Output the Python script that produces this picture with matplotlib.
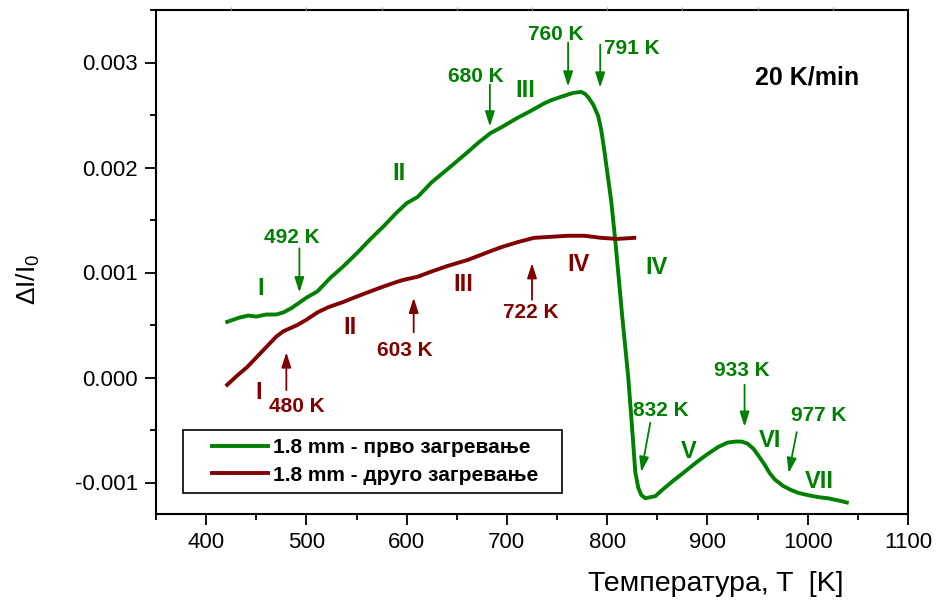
import numpy as np
import matplotlib
matplotlib.use("Agg")
import matplotlib.pyplot as plt
from matplotlib.ticker import MultipleLocator, FormatStrFormatter
from matplotlib.legend_handler import HandlerLine2D

# ---------------- data ----------------
T_first = [421, 433, 442, 450, 460, 470, 477, 485, 491, 500, 511, 524, 537, 551,
           563, 577, 590, 600, 611, 625, 644, 660, 672, 684, 694, 710, 724, 737,
           744, 756, 766, 774, 778, 781, 786, 791, 794, 797, 800, 804, 808, 811,
           815, 821, 825, 828, 831, 834, 838, 843, 848, 855, 865, 877, 890, 900,
           911, 920, 928, 934, 940, 946, 952, 957, 962, 967, 975, 983, 991, 1000,
           1011, 1020, 1030, 1039]
dI_first = [0.00053, 0.00057, 0.00059, 0.00058, 0.00060, 0.00060, 0.00062, 0.00066,
            0.00070, 0.00076, 0.00082, 0.00095, 0.00106, 0.00119, 0.00131, 0.00144,
            0.00157, 0.00166, 0.00172, 0.00186, 0.00201, 0.00214, 0.00224, 0.00233,
            0.00238, 0.00247, 0.00254, 0.00261, 0.00264, 0.00268, 0.00271, 0.00272,
            0.00270, 0.00267, 0.00260, 0.00249, 0.00236, 0.00217, 0.00196, 0.00168,
            0.00131, 0.00100, 0.00058, 0.00000, -0.00050, -0.00090, -0.00105,
            -0.00112, -0.00115, -0.00114, -0.00113, -0.00107, -0.00099, -0.00090,
            -0.00080, -0.00073, -0.00066, -0.00062, -0.00061, -0.00061, -0.00063,
            -0.00068, -0.00076, -0.00083, -0.00091, -0.00097, -0.00103, -0.00107,
            -0.00110, -0.00112, -0.00114, -0.00115, -0.00117, -0.00119]

T_second = [421, 430, 441, 450, 461, 470, 477, 484, 491, 500, 511, 522, 537, 550,
            561, 575, 590, 597, 611, 625, 640, 661, 680, 694, 711, 727, 744, 761,
            777, 794, 810, 827]
dI_second = [-0.00007, 0.00001, 0.00010, 0.00019, 0.00030, 0.00039, 0.00044,
             0.00047, 0.00050, 0.00055, 0.00062, 0.00067, 0.00072, 0.00077,
             0.00081, 0.00086, 0.00091, 0.00093, 0.00096, 0.00101, 0.00106,
             0.00112, 0.00119, 0.00124, 0.00129, 0.00133, 0.00134, 0.00135,
             0.00135, 0.00133, 0.00132, 0.00133]

series_labels = ["1.8 mm - прво загревање", "1.8 mm - друго загревање"]
x_ticks = [400, 500, 600, 700, 800, 900, 1000, 1100]
y_ticks = [-0.001, 0.000, 0.001, 0.002, 0.003]
rate_label = "20 K/min"

# temperature markers: label, text position, arrow start, arrow end
marks_first = [
    ("492 K", (485, 0.00133), (493, 0.00123), (493, 0.00081)),
    ("680 K", (669, 0.00287), (683, 0.00279), (683, 0.00239)),
    ("760 K", (749, 0.00327), (761, 0.00319), (761, 0.00277)),
    ("791 K", (825, 0.00313), (793, 0.00317), (793, 0.00276)),
    ("832 K", (853, -0.00031), (843, -0.00043), (834, -0.00090)),
    ("933 K", (934, 0.00007), (937, -0.00007), (937, -0.00047)),
    ("977 K", (1011, -0.00036), (989, -0.00052), (981, -0.00091)),
]
marks_second = [
    ("480 K", (490, -0.00028), (480, -0.00012), (480, 0.00024)),
    ("603 K", (598, 0.00026), (607, 0.00043), (607, 0.00076)),
    ("722 K", (724, 0.00062), (725, 0.00074), (725, 0.00109)),
]
stages_first = [("I", (454, 0.00085)), ("II", (592, 0.00194)), ("III", (718, 0.00273)),
                ("IV", (849, 0.00105)), ("V", (881, -0.00070)), ("VI", (962, -0.00060)),
                ("VII", (1012, -0.00099))]
stages_second = [("I", (452, -0.00014)), ("II", (543, 0.00048)), ("III", (656, 0.00089)),
                 ("IV", (771, 0.00108))]

# ---------------- style ----------------
plt.rcParams["font.family"] = ["Liberation Sans", "DejaVu Sans"]
plt.rcParams["mathtext.default"] = "regular"
plt.rcParams["axes.unicode_minus"] = False

GREEN = "#008000"
RED = "#800000"

fig = plt.figure(figsize=(9.36, 6.06), dpi=100)
W, H = 936, 606
ax = fig.add_axes([156 / W, (H - 514) / H, 752 / W, 504 / H])

ax.plot(T_first, dI_first, color=GREEN, lw=2.8, label=series_labels[0], solid_joinstyle="round")
ax.plot(T_second, dI_second, color=RED, lw=2.8, label=series_labels[1], solid_joinstyle="round")

ax.set_xlim(350, 1100)
ax.set_ylim(-0.0013, 0.0035)
ax.set_xticks(x_ticks)
ax.set_yticks(y_ticks)
ax.xaxis.set_minor_locator(MultipleLocator(50))
ax.yaxis.set_minor_locator(MultipleLocator(0.0005))
ax.yaxis.set_major_formatter(FormatStrFormatter("%.3f"))
ax.tick_params(which="both", direction="out", width=1.3, top=False, right=False)
ax.tick_params(which="major", length=8, labelsize=16, pad=5)
ax.tick_params(which="minor", length=4)
for s in ax.spines.values():
    s.set_linewidth(1.5)

# faint top-edge ticks
ax_top = ax.twiny()
ax_top.set_xlim(ax.get_xlim())
ax_top.set_xticks(np.arange(425, 1100, 75))
ax_top.set_xticklabels([])
ax_top.tick_params(axis="x", direction="out", length=2.5, width=0.8, colors="#999999")
for s in ax_top.spines.values():
    s.set_visible(False)

ax.set_xlabel("Температура, T  [K]", fontsize=20.5)
ax.xaxis.set_label_coords(0.745, -0.114)
ax.set_ylabel("ΔI/I$_0$", fontsize=19)
ax.yaxis.set_label_coords(-0.152, 0.465)

arrow_style = "-|>,head_length=0.5,head_width=0.16"


def draw_marks(marks, color):
    for lab, tpos, a0, a1 in marks:
        ax.text(*tpos, lab, color=color, fontsize=15, fontweight="bold",
                ha="center", va="center")
        ax.annotate("", xy=a1, xytext=a0,
                    arrowprops=dict(arrowstyle=arrow_style, color=color, lw=1.3,
                                    shrinkA=0, shrinkB=0, mutation_scale=18))


def draw_stages(stages, color):
    for lab, pos in stages:
        ax.text(*pos, lab, color=color, fontsize=17, fontweight="bold",
                ha="center", va="center")


draw_marks(marks_first, GREEN)
draw_marks(marks_second, RED)
draw_stages(stages_first, GREEN)
draw_stages(stages_second, RED)

ax.text(999, 0.00286, rate_label, color="black", fontsize=18, fontweight="bold",
        ha="center", va="center")


class LeadLine(HandlerLine2D):
    def __init__(self, lead, **kw):
        super().__init__(**kw)
        self.lead = lead

    def get_xdata(self, legend, xdescent, ydescent, width, height, fontsize):
        x0 = -xdescent + self.lead * fontsize
        x1 = -xdescent + width
        return np.array([x0, x1]), np.array([x0, x1])


handles, labels = ax.get_legend_handles_labels()
fs_leg = 15
leg = ax.legend(handles, labels, loc="upper left",
                bbox_to_anchor=(27 / 752, 24 / 504, 379 / 752, 60 / 504),
                mode="expand", borderaxespad=0, borderpad=0.38,
                prop={"weight": "bold", "size": fs_leg},
                handlelength=3.68, handletextpad=0.28, labelspacing=0.42,
                fancybox=False, shadow=False, framealpha=1, edgecolor="black",
                handler_map={h: LeadLine(1.0) for h in handles})
leg.get_frame().set_linewidth(1.2)
for lh in leg.get_lines():
    lh.set_linewidth(2.8)

fig.savefig("out.png", dpi=100)
